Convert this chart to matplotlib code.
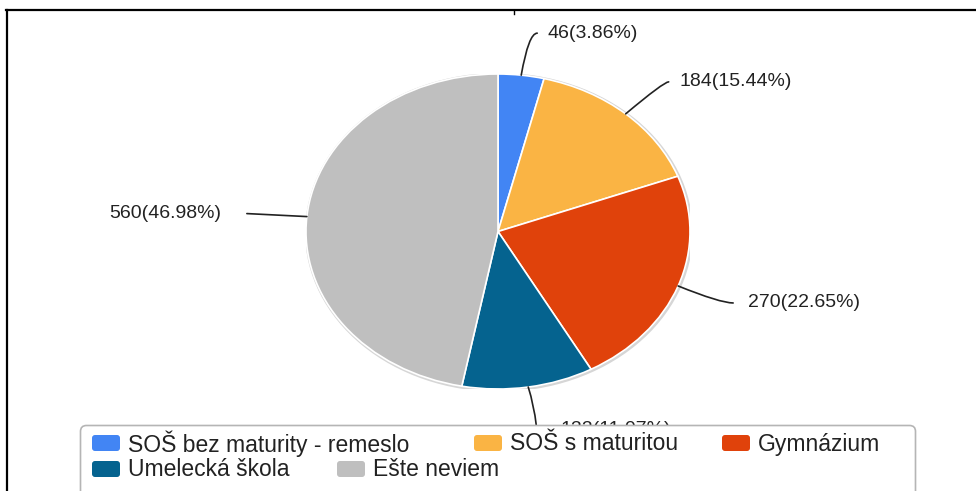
import matplotlib
matplotlib.use("Agg")
import matplotlib.pyplot as plt
from matplotlib.patches import FancyBboxPatch, Ellipse
from matplotlib.lines import Line2D
import numpy as np

plt.rcParams['font.family'] = ['Liberation Sans', 'DejaVu Sans']

# ---- data ----
categories = ["SOŠ bez maturity - remeslo", "SOŠ s maturitou", "Gymnázium",
              "Umelecká škola", "Ešte neviem"]
values = [46, 184, 270, 132, 560]
colors = ["#4285f4", "#fab444", "#e0420b", "#05638f", "#bfbfbf"]

W, H = 976, 491
DPI = 100
fig = plt.figure(figsize=(W / DPI, H / DPI), dpi=DPI)
fig.patch.set_facecolor("white")

# pie axes (elliptical pie)
pl, pr, pt, pb = 306, 690, 74, 389
axp = fig.add_axes([pl / W, (H - pb) / H, (pr - pl) / W, (pb - pt) / H])
axp.set_xlim(-1, 1)
axp.set_ylim(-1, 1)
axp.axis("off")

# subtle shadow
axp.add_patch(Ellipse((0.005, -0.005), 2.02, 2.025, facecolor="#d6d6d6", edgecolor="none", zorder=0))
wedges, _ = axp.pie(values, colors=colors, startangle=90, counterclock=False,
                    radius=1, wedgeprops=dict(edgecolor="white", linewidth=1.2),
                    frame=False)
axp.set_aspect("auto")
axp.set_xlim(-1, 1)
axp.set_ylim(-1, 1)

total = sum(values)
labels = [f"{v}({v / total * 100:.2f}%)" for v in values]

# leader line offsets (pixels, y up) and label side
line_off = [(16, 42), (43, 32), (55, -17), (8, -38), (-60, 3)]
conn = ["angle3,angleA=0,angleB=80", "angle3,angleA=0,angleB=40",
        "angle3,angleA=0,angleB=-22", "arc3,rad=0.05", "arc3,rad=0"]
text_gap = [10, 11, 15, 24, -26]
text_dy = [0, 0, 0, -4, 0]

cum = np.cumsum([0] + values[:-1])
for i, v in enumerate(values):
    mid = (cum[i] + v / 2) / total
    ang = np.deg2rad(90 - 360 * mid)
    xy = (np.cos(ang), np.sin(ang))
    dx, dy = line_off[i]
    axp.annotate("", xy=xy, xycoords="data", xytext=(dx, dy), textcoords="offset pixels",
                 arrowprops=dict(arrowstyle="-", color="#222222", lw=1.2,
                                 connectionstyle=conn[i],
                                 shrinkA=0, shrinkB=0),
                 annotation_clip=False)
    ha = "left" if text_gap[i] > 0 else "right"
    axp.annotate(labels[i], xy=xy, xycoords="data",
                 xytext=(dx + text_gap[i], dy + text_dy[i]),
                 textcoords="offset pixels",
                 ha=ha, va="center", fontsize=14, color="#222222",
                 annotation_clip=False)

# overlay axes in pixel coordinates (frame lines + legend)
ax0 = fig.add_axes([0, 0, 1, 1], zorder=5)
ax0.set_xlim(0, W)
ax0.set_ylim(H, 0)
ax0.axis("off")
ax0.patch.set_visible(False)

ax0.add_line(Line2D([7, 7], [10, H + 5], color="black", lw=1.6))
ax0.add_line(Line2D([6, W + 5], [10, 10], color="black", lw=1.6))
ax0.add_line(Line2D([513.5, 513.5], [10, 14], color="black", lw=1))

# legend box
ax0.add_patch(FancyBboxPatch((80.5, 425.5), 835, 80, boxstyle="round,pad=0,rounding_size=6",
                             facecolor="white", edgecolor="#b5b5b5", lw=1.2))
leg_x = [92, 474, 722, 92, 337]
leg_y = [443, 443, 443, 469, 469]
for i, name in enumerate(categories):
    x, y = leg_x[i], leg_y[i]
    ax0.add_patch(FancyBboxPatch((x, y - 8), 28, 16, boxstyle="round,pad=0,rounding_size=3",
                                 facecolor=colors[i], edgecolor="none"))
    ax0.text(x + 36, y + 1, name, ha="left", va="center", fontsize=16.5, color="#222222")

fig.savefig("out.png", dpi=DPI)
